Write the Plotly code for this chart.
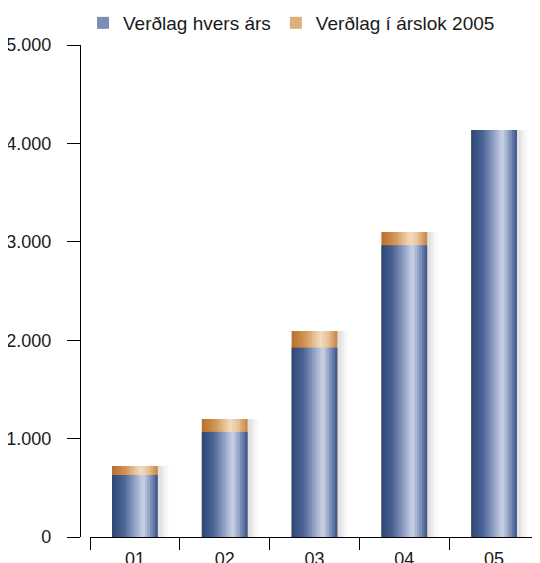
import plotly.graph_objects as go

# ---- data ----
years = ["01", "02", "03", "04", "05"]
verdlag_hvers_ars = [630, 1068, 1924, 2966, 4136]        # blue
verdlag_arslok_2005 = [722, 1199, 2093, 3100, 4136]      # orange (total in 2005 prices)
series_names = ["Verðlag hvers árs", "Verðlag í árslok 2005"]
y_ticks = [0, 1000, 2000, 3000, 4000, 5000]

# ---- styling helpers ----
BAR_W = 0.51
N = 18

def lerp_hex(stops, t):
    for (t0, c0), (t1, c1) in zip(stops, stops[1:]):
        if t0 <= t <= t1:
            f = 0 if t1 == t0 else (t - t0) / (t1 - t0)
            a = [int(c0[i:i+2], 16) for i in (1, 3, 5)]
            b = [int(c1[i:i+2], 16) for i in (1, 3, 5)]
            return "rgb(%d,%d,%d)" % tuple(round(a[k] + (b[k] - a[k]) * f) for k in range(3))
    return stops[-1][1]

blue_stops = [(0, "#2b4677"), (0.25, "#4a6394"), (0.5, "#93a2c6"), (0.68, "#cbd3e7"),
              (0.82, "#8e9fc3"), (1.0, "#35528a")]
orange_stops = [(0, "#b86e2c"), (0.3, "#d19556"), (0.62, "#f2dcbd"), (0.78, "#e9c79c"),
                (1.0, "#c4813f")]

fig = go.Figure()

# soft shadow to the right
for k, (dw, op) in enumerate([(0.10, 0.03), (0.06, 0.04), (0.03, 0.045)]):
    fig.add_trace(go.Bar(
        x=years, y=verdlag_arslok_2005, width=BAR_W + dw, offset=-BAR_W / 2 + 0.015,
        marker=dict(color="rgba(0,0,0,%.3f)" % op, line=dict(width=0)),
        showlegend=False, hoverinfo="skip"))

step = BAR_W / N
legend_strip = 7
for values, stops, name, rank in [(verdlag_arslok_2005, orange_stops, series_names[1], 2),
                                  (verdlag_hvers_ars, blue_stops, series_names[0], 1)]:
    for i in range(N):
        t = (i + 0.5) / N
        w = step * (1.25 if i < N - 1 else 1.0)
        fig.add_trace(go.Bar(
            x=years, y=values, width=w, offset=-BAR_W / 2 + i * step,
            marker=dict(color=lerp_hex(stops, t), line=dict(width=0)),
            name=name, legendgroup=name, legendrank=rank,
            showlegend=(i == legend_strip), hoverinfo="skip"))

# page body adds 8px offset; figure sized so that it fills the 540x563 window
fig.update_layout(
    width=532, height=555,
    barmode="overlay",
    separators=",.",
    paper_bgcolor="white", plot_bgcolor="white",
    margin=dict(l=72, r=1, t=37, b=26, autoexpand=False),
    font=dict(family="Liberation Sans, Arial, sans-serif", size=18, color="#1a1a1a"),
    showlegend=True,
    legend=dict(orientation="h", x=3 / 459, xanchor="left", y=1 + 22 / 492, yanchor="middle",
                font=dict(size=19), itemwidth=30, bgcolor="rgba(0,0,0,0)",
                tracegroupgap=0),
    xaxis=dict(type="category", domain=[10 / 459, 1], range=[-0.5, 4.5],
               showline=True, linecolor="black", linewidth=1.2,
               ticks="outside", ticklen=12, tickwidth=1.2, tickcolor="black",
               tickson="boundaries", ticklabelstandoff=5,
               showgrid=False, zeroline=False,
               anchor="y", fixedrange=True),
    yaxis=dict(range=[0, 5000], tickvals=y_ticks, tickformat=",d",
               showline=True, linecolor="black", linewidth=1.2,
               ticks="outside", ticklen=13, tickwidth=1.2, tickcolor="black",
               ticklabelstandoff=12,
               showgrid=False, zeroline=False, anchor="free", position=0),
)

fig.write_html("out.html")
